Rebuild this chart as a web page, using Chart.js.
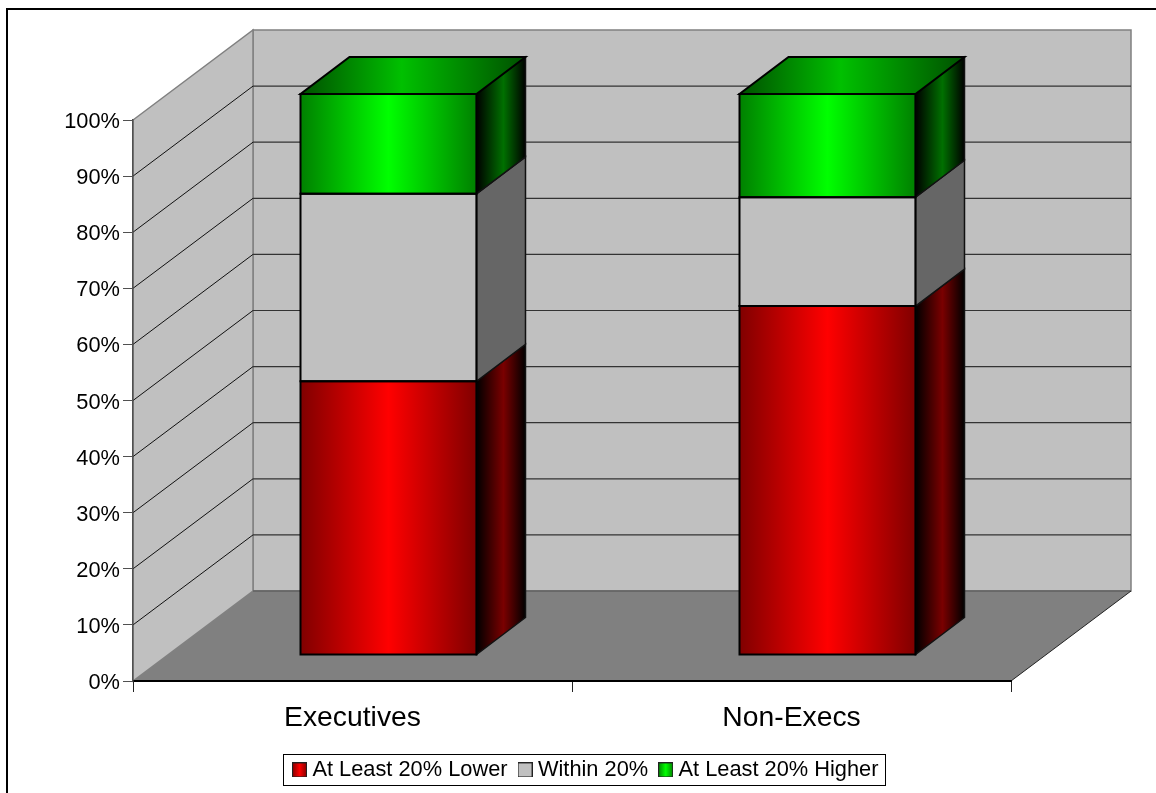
<!DOCTYPE html>
<html lang="en">
<head>
    <meta charset="UTF-8">
    <title>Executives vs Non-Execs</title>
    <script src="https://cdn.jsdelivr.net/npm/chart.js@4"></script>
    <style>
        html, body { margin: 0; padding: 0; background: #fff; }
        canvas { display: block; }
    </style>
</head>
<body>
    <canvas id="myChart" width="1156" height="793"></canvas>
    <script>
        var categories = ['Executives', 'Non-Execs'];
        var seriesNames = ['At Least 20% Lower', 'Within 20%', 'At Least 20% Higher'];
        var lowerValues = [48.8, 62.2];
        var withinValues = [33.4, 19.4];
        var higherValues = [17.8, 18.4];

        // 3D look: depth of the box and of the bars, in pixels
        var boxDepth = { x: 120, y: 90 };
        var barDepth = { x: 49, y: 37 };
        var barShift = { x: 36, y: -26 };
        var barWidth = 176;

        var fontName = '"Liberation Sans", Arial, sans-serif';

        var colors = [
            { edge: '#800000', mid: '#ff0000', sideMid: '#7a0000', swatch: ['#800000', '#ff0000'] },
            { edge: '#c0c0c0', mid: '#c0c0c0', sideEdge: '#666666', sideMid: '#666666', swatch: ['#c0c0c0', '#c0c0c0'] },
            { edge: '#008000', mid: '#00ff00', sideMid: '#007000', topEdge: '#005000', topMid: '#00c000', swatch: ['#008000', '#00ff00'] }
        ];

        function frontFill(ctx, i) {
            var chart = ctx.chart;
            var c = colors[i];
            var mid = chart.scales.x.getPixelForValue(ctx.dataIndex);
            var g = chart.ctx.createLinearGradient(mid - barWidth / 2, 0, mid + barWidth / 2, 0);
            g.addColorStop(0, c.edge);
            g.addColorStop(0.5, c.mid);
            g.addColorStop(1, c.edge);
            return g;
        }

        function makeSwatch(c) {
            var s = document.createElement('canvas');
            s.width = 15;
            s.height = 15;
            var x = s.getContext('2d');
            var g = x.createLinearGradient(0, 0, 15, 0);
            g.addColorStop(0, c.swatch[0]);
            g.addColorStop(0.5, c.swatch[1]);
            g.addColorStop(1, c.swatch[0]);
            x.fillStyle = g;
            x.fillRect(0, 0, 15, 15);
            x.strokeStyle = '#222';
            x.lineWidth = 1;
            x.strokeRect(0.5, 0.5, 14, 14);
            return s;
        }

        function quad(ctx, pts, fill, stroke, lineWidth) {
            ctx.beginPath();
            ctx.moveTo(pts[0][0], pts[0][1]);
            for (var i = 1; i < pts.length; i++) ctx.lineTo(pts[i][0], pts[i][1]);
            ctx.closePath();
            if (fill) {
                ctx.fillStyle = fill;
                ctx.fill();
            }
            if (stroke) {
                ctx.strokeStyle = stroke;
                ctx.lineWidth = lineWidth || 1;
                ctx.stroke();
            }
        }

        function line(ctx, x1, y1, x2, y2, color, w) {
            ctx.beginPath();
            ctx.moveTo(x1, y1);
            ctx.lineTo(x2, y2);
            ctx.strokeStyle = color;
            ctx.lineWidth = w;
            ctx.stroke();
        }

        var box3d = {
            id: 'box3d',
            afterLayout: function (chart) {
                // put the legend where the reference has it
                var lg = chart.legend;
                lg.left = 0;
                lg.right = 1176;
                lg.top = 743.5;
                lg.bottom = 793;
            },
            beforeDraw: function (chart) {
                var ctx = chart.ctx;
                var a = chart.chartArea;
                var y = chart.scales.y;
                var dx = boxDepth.x, dy = boxDepth.y;
                ctx.save();
                // page frame
                ctx.strokeStyle = '#000';
                ctx.lineWidth = 2;
                ctx.strokeRect(7, 9, 1156, 800);
                // walls and floor
                quad(ctx, [[a.left + dx, a.top - dy], [a.right + dx, a.top - dy], [a.right + dx, a.bottom - dy], [a.left + dx, a.bottom - dy]], '#c0c0c0', '#808080', 1.5);
                quad(ctx, [[a.left, a.top], [a.left + dx, a.top - dy], [a.left + dx, a.bottom - dy], [a.left, a.bottom]], '#c0c0c0', '#808080', 1.5);
                quad(ctx, [[a.left, a.bottom], [a.right, a.bottom], [a.right + dx, a.bottom - dy], [a.left + dx, a.bottom - dy]], '#808080');
                line(ctx, a.left + dx, a.bottom - dy, a.right + dx, a.bottom - dy, '#606060', 1.5);
                line(ctx, a.right, a.bottom, a.right + dx, a.bottom - dy, '#222', 1);
                // gridlines on both walls
                y.ticks.forEach(function (t) {
                    if (t.value === 0 || t.value === 100) return;
                    var py = y.getPixelForValue(t.value);
                    line(ctx, a.left, py, a.left + dx, py - dy, '#111', 1);
                    line(ctx, a.left + dx, py - dy, a.right + dx, py - dy, '#333', 1.2);
                });
                ctx.restore();
            },
            beforeDatasetsDraw: function (chart) {
                chart.ctx.save();
                chart.ctx.translate(barShift.x, barShift.y);
            },
            afterDatasetsDraw: function (chart) {
                var ctx = chart.ctx;
                var dx = barDepth.x, dy = barDepth.y;
                chart.data.datasets.forEach(function (ds, i) {
                    var c = colors[i];
                    chart.getDatasetMeta(i).data.forEach(function (bar) {
                        var p = bar.getProps(['x', 'y', 'base', 'width'], true);
                        var r = p.x + p.width / 2;
                        var l = p.x - p.width / 2;
                        var g = ctx.createLinearGradient(r, 0, r + dx, 0);
                        g.addColorStop(0, c.sideEdge || '#000');
                        g.addColorStop(0.55, c.sideMid);
                        g.addColorStop(1, c.sideEdge || '#000');
                        quad(ctx, [[r, p.y], [r + dx, p.y - dy], [r + dx, p.base - dy], [r, p.base]], g, '#111', 1.5);
                        if (i === chart.data.datasets.length - 1) {
                            var tg = ctx.createLinearGradient(l, 0, r + dx, 0);
                            tg.addColorStop(0, c.topEdge);
                            tg.addColorStop(0.45, c.topMid);
                            tg.addColorStop(1, c.topEdge);
                            quad(ctx, [[l, p.y], [r, p.y], [r + dx, p.y - dy], [l + dx, p.y - dy]], tg, '#000', 2);
                        }
                        // front outline, same weight as the reference
                        quad(ctx, [[l, p.y], [r, p.y], [r, p.base], [l, p.base]], null, '#000', 2);
                    });
                });
                ctx.restore();
            },
            afterDraw: function (chart) {
                var ctx = chart.ctx;
                ctx.save();
                ctx.strokeStyle = '#000';
                ctx.lineWidth = 1;
                ctx.strokeRect(283.5, 754.5, 602, 31);
                ctx.restore();
            }
        };

        var myChart = new Chart(document.getElementById('myChart').getContext('2d'), {
            type: 'bar',
            data: {
                labels: categories,
                datasets: [lowerValues, withinValues, higherValues].map(function (vals, i) {
                    return {
                        label: seriesNames[i],
                        data: vals,
                        backgroundColor: function (ctx) { return frontFill(ctx, i); },
                        borderWidth: 0,
                        inflateAmount: 0,
                        barThickness: barWidth,
                        clip: false
                    };
                })
            },
            options: {
                responsive: false,
                animation: false,
                layout: { padding: { top: 120, right: 145, left: 0, bottom: 0 } },
                plugins: {
                    tooltip: { enabled: false },
                    legend: {
                        position: 'bottom',
                        labels: {
                            font: { family: fontName, size: 21.8 },
                            color: '#000',
                            usePointStyle: true,
                            pointStyleWidth: 4,
                            padding: 15.5,
                            generateLabels: function (chart) {
                                return chart.data.datasets.map(function (ds, i) {
                                    return { text: ds.label, pointStyle: makeSwatch(colors[i]), datasetIndex: i, hidden: false };
                                });
                            }
                        }
                    }
                },
                scales: {
                    x: {
                        stacked: true,
                        afterFit: function (s) { s.height = 112 - s.chart.legend.height; },
                        border: { color: '#000', width: 2 },
                        grid: { drawOnChartArea: false, tickLength: 11, color: '#222' },
                        ticks: { color: '#000', font: { family: fontName, size: 28.3 }, padding: 9, maxRotation: 0 }
                    },
                    y: {
                        stacked: true,
                        min: 0,
                        max: 100,
                        afterFit: function (s) { s.width = 133; },
                        border: { color: '#505050', width: 1.5 },
                        grid: { drawOnChartArea: false, tickLength: 10, color: '#505050' },
                        ticks: {
                            stepSize: 10,
                            color: '#000',
                            padding: 3,
                            labelOffset: 2,
                            font: { family: fontName, size: 21.8 },
                            callback: function (v) { return v + '%'; }
                        }
                    }
                }
            },
            plugins: [box3d]
        });
    </script>
</body>
</html>
